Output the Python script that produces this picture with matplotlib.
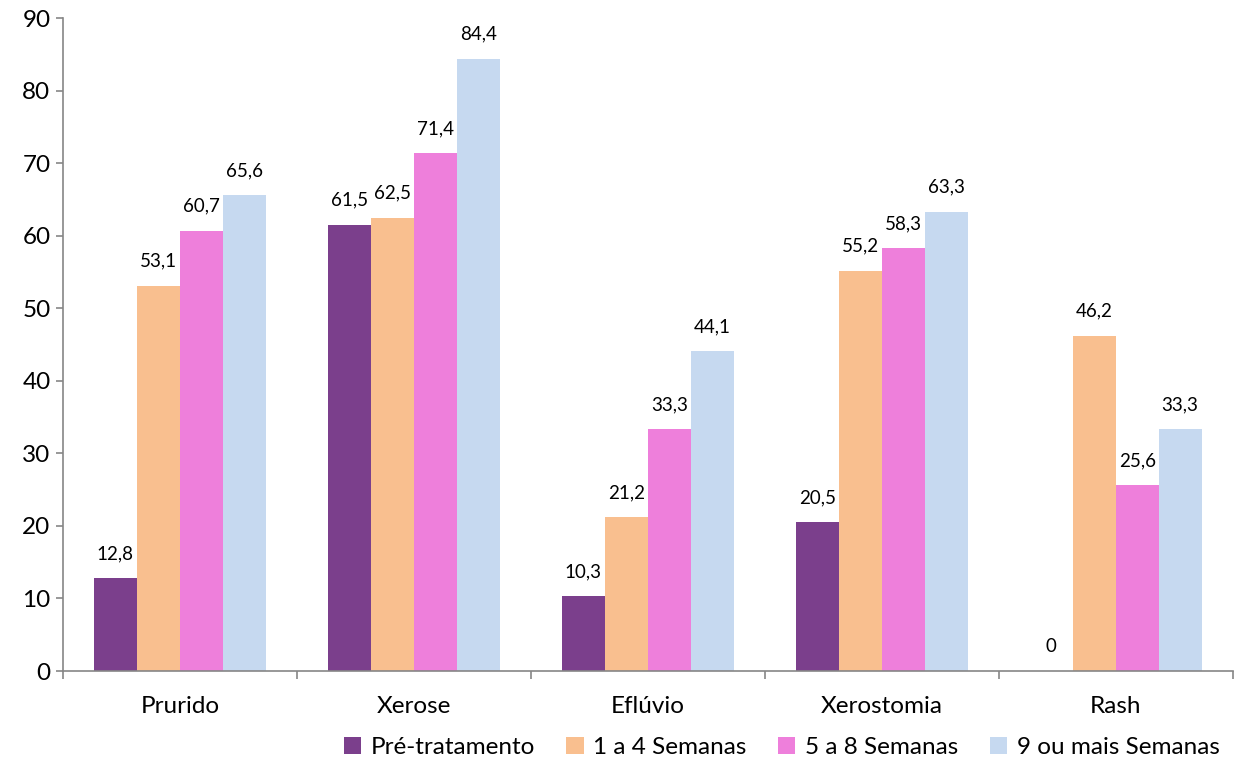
import numpy as np
import matplotlib.pyplot as plt

plt.rcParams['font.family'] = ['Lato', 'DejaVu Sans']

categorias = ["Prurido", "Xerose", "Eflúvio", "Xerostomia", "Rash"]
series = ["Pré-tratamento", "1 a 4 Semanas", "5 a 8 Semanas", "9 ou mais Semanas"]
pre = [12.8, 61.5, 10.3, 20.5, 0]
sem_1_4 = [53.1, 62.5, 21.2, 55.2, 46.2]
sem_5_8 = [60.7, 71.4, 33.3, 58.3, 25.6]
sem_9 = [65.6, 84.4, 44.1, 63.3, 33.3]
cores = ["#7B3F8C", "#F9BF8F", "#EE7FDB", "#C6D9F0"]

fig = plt.figure(figsize=(12.45, 7.57), dpi=100)
ax = fig.add_axes([0.0506, 0.1136, 0.9394, 0.8626])

x = np.arange(len(categorias))
w = 0.184
valores = [pre, sem_1_4, sem_5_8, sem_9]
for i, (vals, nome, cor) in enumerate(zip(valores, series, cores)):
    pos = x + (i - 1.5) * w
    ax.bar(pos, vals, width=w, color=cor, label=nome, edgecolor="none")
    for px, v in zip(pos, vals):
        txt = f"{v:.1f}".replace(".", ",") if v != 0 else "0"
        ax.text(px, v + 2.2, txt, ha="center", va="bottom", fontsize=13.5)

ax.set_xlim(-0.5, len(categorias) - 0.5)
ax.set_ylim(0, 90)
ax.set_yticks(range(0, 91, 10))
ax.tick_params(axis="y", labelsize=17.5, length=5, color="#868686", width=1.2, pad=4)

# ticks do eixo x nas divisoes entre categorias
ax.set_xticks(np.arange(-0.5, len(categorias), 1))
ax.set_xticklabels([])
ax.tick_params(axis="x", length=6, color="#868686", width=1.2)
for xi, c in zip(x, categorias):
    ax.text(xi, -3.4, c, ha="center", va="top", fontsize=17.5)

for s in ["top", "right"]:
    ax.spines[s].set_visible(False)
for s in ["left", "bottom"]:
    ax.spines[s].set_color("#868686")
    ax.spines[s].set_linewidth(1.2)

fig.legend(loc="lower right", bbox_to_anchor=(0.997, -0.03), ncol=4, frameon=False,
           fontsize=17.5, handlelength=0.7, handleheight=0.7, handletextpad=0.4,
           columnspacing=1.3)

fig.savefig("out.png", dpi=100)
